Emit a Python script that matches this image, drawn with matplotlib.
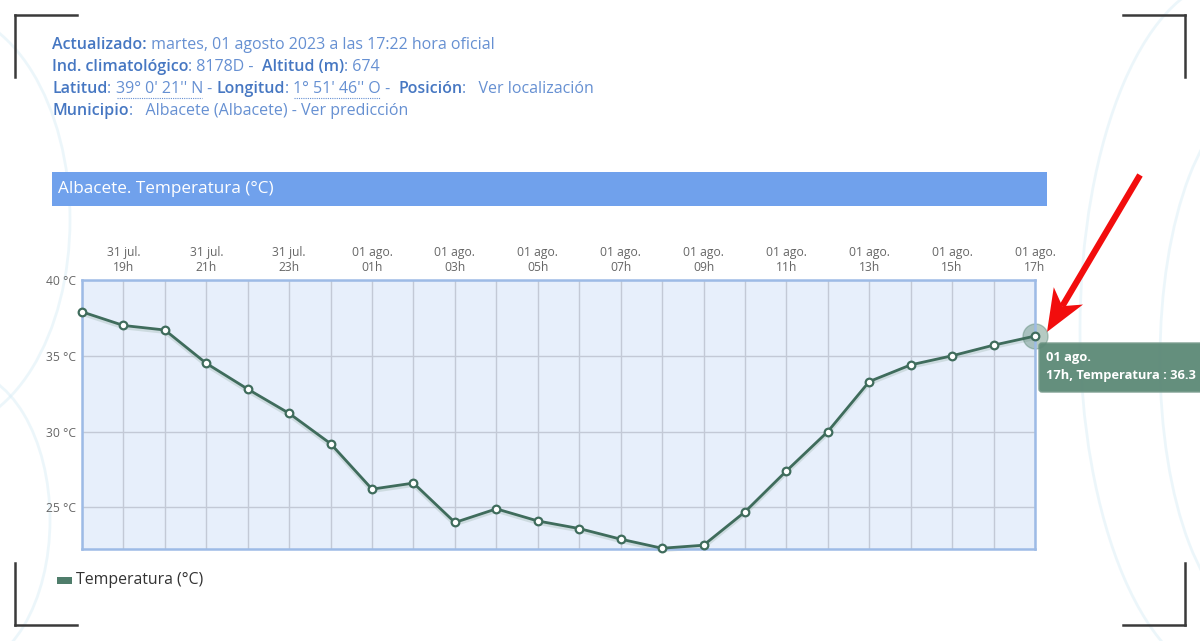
import matplotlib.pyplot as plt
from matplotlib.patches import Rectangle, FancyBboxPatch, Polygon, Arc
import numpy as np

plt.rcParams['font.family'] = ['Open Sans', 'DejaVu Sans']

# hourly observations, 31 jul 18h -> 01 ago 17h
days = ['31 jul.'] * 6 + ['01 ago.'] * 18
hours = ['18h', '19h', '20h', '21h', '22h', '23h',
         '00h', '01h', '02h', '03h', '04h', '05h', '06h', '07h', '08h', '09h',
         '10h', '11h', '12h', '13h', '14h', '15h', '16h', '17h']
temps = [37.9, 37.0, 36.7, 34.5, 32.8, 31.2,
         29.2, 26.2, 26.6, 24.0, 24.9, 24.1, 23.6, 22.9, 22.3, 22.5,
         24.7, 27.4, 30.0, 33.3, 34.4, 35.0, 35.7, 36.3]
y_ticks = [25, 30, 35, 40]

W, H = 1200, 641
fig = plt.figure(figsize=(W / 100, H / 100), dpi=100)
fig.patch.set_facecolor('white')

# overlay in pixel coords (y down)
bg = fig.add_axes([0, 0, 1, 1])
bg.set_xlim(0, W)
bg.set_ylim(H, 0)
bg.axis('off')

# faint background swirls
for cx, cy, w, h, t1, t2 in [(1230, 330, 300, 700, 90, 270), (1260, 360, 200, 520, 90, 270),
                             (-60, 220, 260, 420, -90, 90), (-40, 520, 180, 300, -90, 90)]:
    bg.add_patch(Arc((cx, cy), w, h, theta1=t1, theta2=t2, color='#d6ecf6', lw=2, alpha=0.45))

# corner marks
for (x0, y0, dx, dy) in [(15, 15, 1, 1), (1185, 15, -1, 1), (15, 625, 1, -1), (1185, 625, -1, -1)]:
    bg.plot([x0, x0 + dx * 62], [y0, y0], color='#3a3a3a', lw=1.8)
    bg.plot([x0, x0], [y0, y0 + dy * 62], color='#3a3a3a', lw=1.8)

# header lines (bold label + regular value segments)
lbl_c, val_c = '#4677c2', '#6690d2'
header = [
    [('Actualizado:', True), (' martes, 01 agosto 2023 a las 17:22 hora oficial', False)],
    [('Ind. climatológico', True), (': 8178D -  ', False), ('Altitud (m)', True), (': 674', False)],
    [('Latitud', True), (': ', False), ("39° 0' 21'' N", False), (' - ', False), ('Longitud', True),
     (': ', False), ("1° 51' 46'' O", False), (' -  ', False), ('Posición', True), (':   Ver localización', False)],
    [('Municipio', True), (':   Albacete (Albacete) - Ver predicción', False)],
]
renderer = fig.canvas.get_renderer()
for i, line in enumerate(header):
    x = 52
    y = 45 + i * 22
    for txt, bold in line:
        t = bg.text(x, y, txt, fontsize=11.5, color=lbl_c if bold else val_c,
                    fontweight=600 if bold else 'normal', va='center', ha='left')
        ext = t.get_window_extent(renderer)
        if "''" in txt:
            bg.plot([x + 1, x + ext.width - 1], [y + 9, y + 9], color=val_c, lw=0.8, ls=(0, (1, 1)))
        x += ext.width

# title bar
bg.add_patch(Rectangle((52, 172), 995, 34, color='#70a1ec', lw=0))
bg.text(58, 189, 'Albacete. Temperatura (°C)', color='white', fontsize=12.3, va='center')

# chart
left, right, top, bottom = 82, 1035, 280, 549
ax = fig.add_axes([left / W, 1 - bottom / H, (right - left) / W, (bottom - top) / H])
x = np.arange(len(temps))
ax.set_facecolor('#e7effb')
ax.set_xlim(0, len(temps) - 1)
ax.set_ylim(min(temps) - 0.05, 40)

ax.set_xticks(x, minor=True)
ax.set_xticks(x[1::2])
ax.set_xticklabels([f'{d}\n{h}' for d, h in zip(days[1::2], hours[1::2])])
ax.xaxis.tick_top()
ax.set_yticks(y_ticks)
ax.set_yticklabels([f'{v} °C' for v in y_ticks])
ax.tick_params(which='both', length=0, colors='#666666', labelsize=8.7)
ax.tick_params(axis='x', pad=4)
ax.tick_params(axis='y', pad=4)
ax.grid(True, which='both', axis='x', color='#c3c9d6', lw=1)
ax.grid(True, which='major', axis='y', color='#c3c9d6', lw=1)
ax.set_axisbelow(True)
for s in ax.spines.values():
    s.set_color('#9dbbe6')
    s.set_linewidth(1.8)

line_c = '#3f6c5c'
ax.plot(x, np.array(temps) - 0.12, color='#9fb7b0', lw=3, alpha=0.35, clip_on=False)
ax.plot(x, temps, color=line_c, lw=2, marker='o', markersize=5.5,
        markerfacecolor='white', markeredgecolor=line_c, markeredgewidth=1.6, clip_on=False, zorder=3)
ax.plot(x[-1], temps[-1], 'o', markersize=18, color='#5e8a78', alpha=0.45, clip_on=False, zorder=2)

# legend
bg.add_patch(Rectangle((57, 577), 15, 7, color='#4f7d6b', lw=0))
bg.text(76, 580, 'Temperatura (°C)', fontsize=11.4, color='#333333', va='center')

# tooltip
bg.add_patch(FancyBboxPatch((1039, 343), 200, 49, boxstyle='round,pad=0,rounding_size=3',
                            facecolor='#5f8b79', edgecolor='#7c9e90', lw=1, alpha=0.97))
bg.text(1046, 357, f'{days[-1]}', color='white', fontsize=9.3, fontweight='bold', va='center')
bg.text(1046, 376, f'{hours[-1]}, Temperatura : {temps[-1]}', color='white', fontsize=9.3,
        fontweight='bold', va='center')

# red arrow: shaft + notched head
tail = np.array([1140.0, 175.0])
tip = np.array([1047.0, 332.0])
u = (tip - tail) / np.linalg.norm(tip - tail)
n = np.array([u[1], -u[0]])
base = tip - 42 * u
notch = tip - 30 * u
bg.plot([tail[0], notch[0]], [tail[1], notch[1]], color='#f20d0d', lw=4.5, solid_capstyle='butt')
bg.add_patch(Polygon([tip, base + 17 * n, notch, base - 17 * n], closed=True,
                     facecolor='#f20d0d', edgecolor='none'))

fig.savefig('out.png', dpi=100, facecolor=fig.get_facecolor())
